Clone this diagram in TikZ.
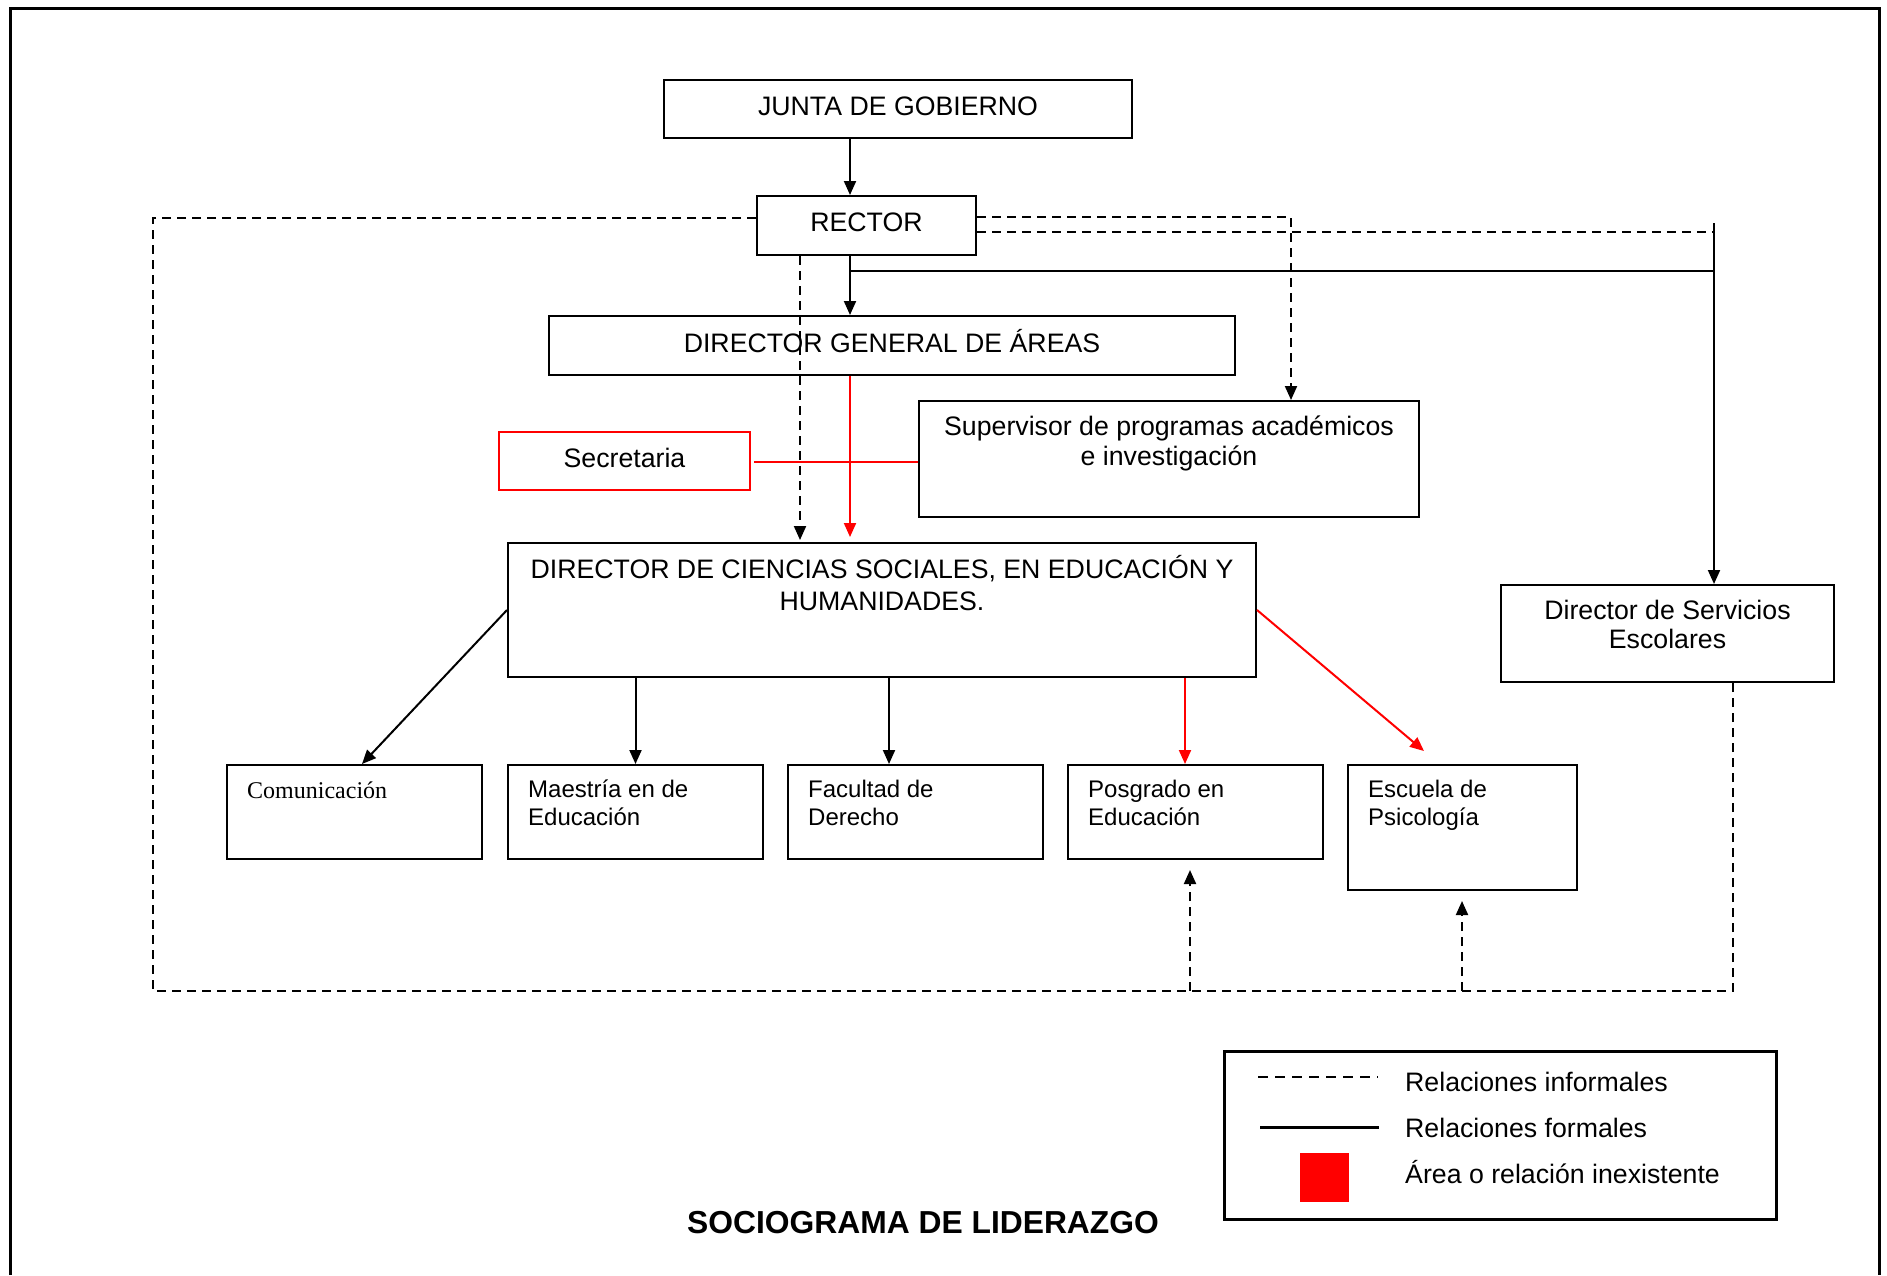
\documentclass[tikz,border=0pt]{standalone}
\usepackage{fontspec}
\setmainfont{Liberation Sans}
\newfontfamily\serifface{Liberation Serif}
\usetikzlibrary{arrows.meta}

\tikzset{
  unit box/.style={draw, line width=2pt, inner sep=0pt, anchor=north west},
  absent box/.style={unit box, draw=red},
  % multi-line captions are placed by the baseline of their last line
  caption/.style={inner sep=0pt, anchor=base, align=center, font=\fontsize{26.7}{30}\selectfont},
  unit caption/.style={inner sep=0pt, anchor=base west, align=left, font=\fontsize{24}{28}\selectfont},
  legend caption/.style={inner sep=0pt, anchor=base west, font=\fontsize{26.7}{30.5}\selectfont},
  arrowed/.style={-{Triangle[length=14pt,width=12pt]}},
  formal/.style={line width=2pt},
  informal/.style={line width=2pt, dash pattern=on 9pt off 6pt},
  absent/.style={line width=2pt, red},
}

\begin{document}
\begin{tikzpicture}[x=1pt, y=-1pt]
\useasboundingbox (0,0) rectangle (1887,1275);

% page frame (open at the bottom)
\draw[line width=3pt] (10,1275) -- (10,8) -- (1879,8) -- (1879,1275);

% boxes
\node[unit box, minimum width=468pt, minimum height=58pt] (junta) at (663,79) {};
\node[unit box, minimum width=219pt, minimum height=59pt] (rector) at (756,195) {};
\node[unit box, minimum width=686pt, minimum height=59pt] (dga) at (548,315) {};
\node[absent box, minimum width=251pt, minimum height=58pt] (secretaria) at (498,431) {};
\node[unit box, minimum width=500pt, minimum height=116pt] (supervisor) at (918,400) {};
\node[unit box, minimum width=748pt, minimum height=134pt] (dcs) at (507,542) {};
\node[unit box, minimum width=333pt, minimum height=97pt] (servicios) at (1500,584) {};
\node[unit box, minimum width=255pt, minimum height=94pt] (comunicacion) at (226,764) {};
\node[unit box, minimum width=255pt, minimum height=94pt] (maestria) at (507,764) {};
\node[unit box, minimum width=255pt, minimum height=94pt] (facultad) at (787,764) {};
\node[unit box, minimum width=255pt, minimum height=94pt] (posgrado) at (1067,764) {};
\node[unit box, minimum width=229pt, minimum height=125pt] (escuela) at (1347,764) {};

% box texts
\node[caption] (junta-t) at ([yshift=-36pt]junta.north) {JUNTA DE GOBIERNO};
\node[caption] (rector-t) at ([yshift=-36pt]rector.north) {RECTOR};
\node[caption] (dga-t) at ([yshift=-37pt]dga.north) {DIRECTOR GENERAL DE ÁREAS};
\node[caption] (secretaria-t) at ([yshift=-36pt]secretaria.north) {Secretaria};
\node[caption] (supervisor-t) at ([yshift=-65pt]supervisor.north) {Supervisor de programas académicos\\e investigación};
\node[caption] (dcs-t) at ([yshift=-68pt]dcs.north) {DIRECTOR DE CIENCIAS SOCIALES, EN EDUCACIÓN Y\\[2pt]HUMANIDADES.};
\node[caption] (servicios-t) at ([yshift=-64pt]servicios.north) {Director de Servicios\\[-1pt]Escolares};
\node[unit caption, font=\serifface\fontsize{24}{28}\selectfont] (comunicacion-t) at ([xshift=21pt, yshift=-34pt]comunicacion.north west) {Comunicación};
\node[unit caption] (maestria-t) at ([xshift=21pt, yshift=-61pt]maestria.north west) {Maestría en de\\Educación};
\node[unit caption] (facultad-t) at ([xshift=21pt, yshift=-61pt]facultad.north west) {Facultad de\\Derecho};
\node[unit caption] (posgrado-t) at ([xshift=21pt, yshift=-61pt]posgrado.north west) {Posgrado en\\Educación};
\node[unit caption] (escuela-t) at ([xshift=21pt, yshift=-61pt]escuela.north west) {Escuela de\\Psicología};

% reference coordinates for the connectors
\coordinate (axis) at (850,0);
\coordinate (infx) at (800,0);
\coordinate (branch) at (850,271);
\coordinate (servx) at (1714,223);
\coordinate (supx) at (1291,217);
\coordinate (dashtwo) at (0,232);
\coordinate (looptop) at (0,218);
\coordinate (loopL) at (153,991);
\coordinate (loopR) at (1733,991);
\coordinate (posx) at (1190,0);
\coordinate (escx) at (1462,0);
\coordinate (redrow) at (0,462);
\coordinate (facx) at (889,0);
\coordinate (posredx) at (1185,0);
\coordinate (escuelatip) at (1424,751);

% formal relations
\draw[formal, arrowed] (junta.south -| axis) -- (rector.north -| axis);
\draw[formal, arrowed] (rector.south -| axis) -- (dga.north -| axis);
\draw[formal] (branch) -- (branch -| servx);
\draw[formal, arrowed] (servx) -- (servicios.north -| servx);
\draw[formal, arrowed] (dcs.west) -- ([xshift=7.5pt]comunicacion.north);
\draw[formal, arrowed] (dcs.south -| maestria.north) -- (maestria.north);
\draw[formal, arrowed] (dcs.south -| facx) -- (facultad.north -| facx);

% informal relations
\draw[informal] (rector.west |- looptop) -- (loopL |- looptop) -- (loopL) -- (loopR) -- (servicios.south -| loopR);
\draw[informal, arrowed, shorten >=10pt] (loopL -| posx) -- (posgrado.south -| posx);
\draw[informal, arrowed, shorten >=10pt] (loopL -| escx) -- (escuela.south -| escx);
\draw[informal, arrowed] (rector.east |- supx) -- (supx) -- (supervisor.north -| supx);
\draw[informal] (rector.east |- dashtwo) -- (servx |- dashtwo);
\draw[informal, arrowed, shorten >=2pt] (rector.south -| infx) -- (dcs.north -| infx);

% missing relations
\draw[absent, arrowed, shorten >=5pt] (dga.south -| axis) -- (dcs.north -| axis);
\draw[absent] ([xshift=3pt]secretaria.east |- redrow) -- (supervisor.west |- redrow);
\draw[absent, arrowed] (dcs.south -| posredx) -- (posgrado.north -| posredx);
\draw[absent, arrowed] (dcs.east) -- (escuelatip);

% legend
\node[draw, line width=2.5pt, inner sep=0pt, anchor=north west, minimum width=552pt, minimum height=168pt] (legend) at (1223,1050) {};
\draw[line width=2pt, dash pattern=on 10pt off 7pt] (1258,1077) -- (1378,1077);
\draw[line width=3pt] (1260,1127) -- (1379,1127);
\node[fill=red, inner sep=0pt, minimum size=49pt, anchor=north west] (legend-red) at (1300,1153) {};
\node[legend caption] (legend-inf) at (1405,1091) {Relaciones informales};
\node[legend caption] (legend-for) at (1405,1137) {Relaciones formales};
\node[legend caption] (legend-abs) at (1405,1183) {Área o relación inexistente};

% title
\node[inner sep=0pt, anchor=base, font=\bfseries\fontsize{31.8}{36}\selectfont] (title) at (923,1233) {SOCIOGRAMA DE LIDERAZGO};
\end{tikzpicture}
\end{document}
